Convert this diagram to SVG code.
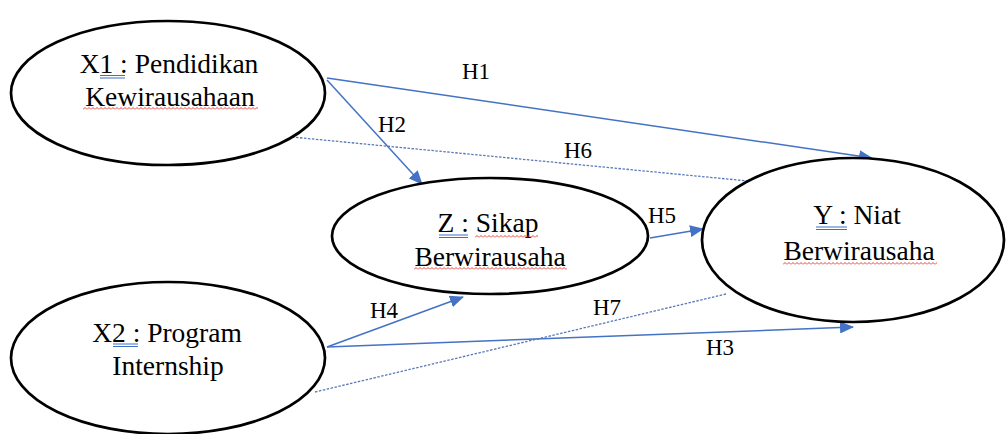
<svg xmlns="http://www.w3.org/2000/svg" width="1006" height="434" viewBox="0 0 1006 434">
  <style>
    .node { fill: #ffffff; stroke: #000000; stroke-width: 2.7; }
    .txt { font-size: 27.5px; fill: #000000; text-anchor: middle; }
    .lbl { font-size: 23px; fill: #000000; text-anchor: middle; }
    .edge { stroke: #4472C4; stroke-width: 1.5; fill: none; }
    .dash { stroke: #5a79b8; stroke-width: 1.3; stroke-dasharray: 2.5 1.5; fill: none; }
    .grammar { stroke: #3f6fc6; stroke-width: 1; fill: none; }
  </style>
  <defs>
    <marker id="arrow" markerUnits="userSpaceOnUse" markerWidth="14" markerHeight="12" refX="13" refY="6" orient="auto">
      <path d="M0,0 L14,6 L0,12 z" fill="#4472C4"/>
    </marker>
    <pattern id="squiggle" patternUnits="userSpaceOnUse" width="4" height="3">
      <path d="M0,2.5 L2,0.5 L4,2.5" stroke="#e0302a" stroke-width="0.9" fill="none"/>
    </pattern>
  </defs>

  <rect width="1006" height="434" fill="#ffffff"/>

  <g font-family="Liberation Serif, DejaVu Serif, serif">
  <!-- connectors with their hypothesis labels -->
  <g id="connectors">
    <line class="edge" x1="327" y1="78" x2="872" y2="158" marker-end="url(#arrow)"/>
    <line class="edge" x1="327" y1="80" x2="422" y2="184" marker-end="url(#arrow)"/>
    <line class="dash" x1="292" y1="137" x2="748" y2="181"/>
    <line class="edge" x1="650" y1="238" x2="703" y2="229" marker-end="url(#arrow)"/>
    <line class="edge" x1="327" y1="347" x2="463" y2="297" marker-end="url(#arrow)"/>
    <line class="edge" x1="327" y1="347" x2="853" y2="327" marker-end="url(#arrow)"/>
    <line class="dash" x1="315" y1="392" x2="726" y2="294"/>
    <text class="lbl" x="476" y="79">H1</text>
    <text class="lbl" x="392" y="132">H2</text>
    <text class="lbl" x="578" y="158">H6</text>
    <text class="lbl" x="662" y="223">H5</text>
    <text class="lbl" x="384" y="318">H4</text>
    <text class="lbl" x="607" y="315">H7</text>
    <text class="lbl" x="720" y="355">H3</text>
  </g>

  <!-- X1 -->
  <g id="node-x1">
    <ellipse class="node" cx="168" cy="93" rx="157" ry="72"/>
    <text class="txt" x="169" y="73">X1 : Pendidikan</text>
    <text class="txt" x="170" y="106">Kewirausahaan</text>
    <path class="grammar" d="M100,75.5 H125 M100,78 H125"/>
    <g transform="translate(83,107)"><rect width="175" height="3" fill="url(#squiggle)"/></g>
  </g>

  <!-- Z -->
  <g id="node-z">
    <ellipse class="node" cx="490" cy="236" rx="158" ry="58"/>
    <text class="txt" x="488" y="232">Z : Sikap</text>
    <text class="txt" x="490" y="266">Berwirausaha</text>
    <path class="grammar" d="M439,235 H468 M439,237.5 H468"/>
    <g transform="translate(475,235)"><rect width="63" height="3" fill="url(#squiggle)"/></g>
    <g transform="translate(414,267)"><rect width="153" height="3" fill="url(#squiggle)"/></g>
  </g>

  <!-- Y -->
  <g id="node-y">
    <ellipse class="node" cx="853" cy="240" rx="151" ry="82"/>
    <text class="txt" x="857" y="224">Y : Niat</text>
    <text class="txt" x="859" y="260">Berwirausaha</text>
    <path class="grammar" d="M816,227 H847 M816,229.5 H847"/>
    <g transform="translate(783,262)"><rect width="154" height="3" fill="url(#squiggle)"/></g>
  </g>

  <!-- X2 -->
  <g id="node-x2">
    <ellipse class="node" cx="168" cy="358" rx="157" ry="76"/>
    <text class="txt" x="167" y="342">X2 : Program</text>
    <text class="txt" x="168" y="375">Internship</text>
    <path class="grammar" d="M113,344 H138 M113,346.5 H138"/>
  </g>
  </g>
</svg>
